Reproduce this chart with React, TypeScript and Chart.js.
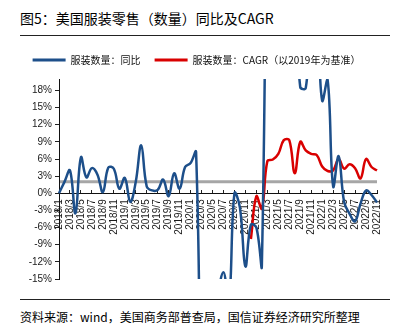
import React, { useEffect, useRef } from 'react';
import { Chart, registerables } from 'chart.js';

Chart.register(...registerables);

const categories = [
  '2018/1', '2018/2', '2018/3', '2018/4', '2018/5', '2018/6', '2018/7', '2018/8', '2018/9', '2018/10', '2018/11', '2018/12',
  '2019/1', '2019/2', '2019/3', '2019/4', '2019/5', '2019/6', '2019/7', '2019/8', '2019/9', '2019/10', '2019/11', '2019/12',
  '2020/1', '2020/2', '2020/3', '2020/4', '2020/5', '2020/6', '2020/7', '2020/8', '2020/9', '2020/10', '2020/11', '2020/12',
  '2021/1', '2021/2', '2021/3', '2021/4', '2021/5', '2021/6', '2021/7', '2021/8', '2021/9', '2021/10', '2021/11', '2021/12',
  '2022/1', '2022/2', '2022/3', '2022/4', '2022/5', '2022/6', '2022/7', '2022/8', '2022/9', '2022/10', '2022/11',
];

// 服装数量：同比 (%)
const yoyValues = [
  0.0, 2.0, 4.0, -3.5, 6.3, 2.8, 4.4, 3.3, 0.2, 4.5, 4.3, 0.8,
  2.7, -1.5, 2.0, 8.4, 1.2, 0.5, 0.6, 2.4, -0.5, 3.5, 0.8, 4.6,
  5.3, 7.2, -50.0, -85.0, -60.0, -19.0, -13.8, -19.0, 0.0, -2.5, -12.8, -5.5,
  -6.0, -12.6, 85.0, 300.0, 150.0, 45.0, 40.0, 35.0, 18.6, 18.4, 30.0, 30.0,
  16.2, 19.8, 1.2, 6.5, -1.5, -3.6, -4.9, -1.8, 0.5, -0.3, -1.6,
];

// 服装数量：CAGR（以2019年为基准）(%)
const cagrValues = [
  null, null, null, null, null, null, null, null, null, null, null, null,
  null, null, null, null, null, null, null, null, null, null, null, null,
  null, null, null, null, null, null, null, null, null, null, null, -8.0,
  -0.5, -2.7, 5.6, 5.9, 6.9, 9.3, 9.3, 3.5, 9.0, 7.5, 6.9, 6.7,
  4.7, 3.9, 4.0, 6.0, 4.3, 5.1, 4.4, 2.6, 6.0, 4.6, 4.0,
];

const yTickValues = [-15, -12, -9, -6, -3, 0, 3, 6, 9, 12, 15, 18];
const benchmarkValue = 2.0;

const seriesNames = ['服装数量：同比', '服装数量：CAGR（以2019年为基准）'];
const titleText = '图5：美国服装零售（数量）同比及CAGR';
const sourceText = '资料来源：wind，美国商务部普查局，国信证券经济研究所整理';

const BLUE = '#1d4f8a';
const RED = '#d90000';
const GRAY = '#a6a6a6';
const CJK = '"Noto Sans CJK SC", "Noto Sans", sans-serif';
const LATIN = '"Liberation Sans", Arial, sans-serif';

const benchmarkPlugin = {
  id: 'benchmarkLine',
  beforeDatasetsDraw(chart: any) {
    const { ctx, chartArea, scales } = chart;
    const y = scales.y.getPixelForValue(benchmarkValue);
    ctx.save();
    ctx.strokeStyle = GRAY;
    ctx.lineWidth = 3;
    ctx.beginPath();
    ctx.moveTo(chartArea.left + 1, y);
    ctx.lineTo(chartArea.right, y);
    ctx.stroke();
    ctx.restore();
  },
};

const legendHeightPlugin = {
  id: 'legendHeight',
  beforeInit(chart: any) {
    const legend = chart.legend;
    if (!legend) return;
    const origFit = legend.fit;
    legend.fit = function () {
      origFit.call(this);
      this.height = 38;
    };
  },
};

export default function App() {
  const canvasRef = useRef<HTMLCanvasElement | null>(null);

  useEffect(() => {
    if (!canvasRef.current) return;
    const chart = new Chart(canvasRef.current, {
      type: 'line',
      data: {
        labels: categories,
        datasets: [
          {
            label: seriesNames[0],
            data: yoyValues,
            borderColor: BLUE,
            backgroundColor: BLUE,
            borderWidth: 2.5,
            pointRadius: 0,
            tension: 0.4,
          },
          {
            label: seriesNames[1],
            data: cagrValues,
            borderColor: RED,
            backgroundColor: RED,
            borderWidth: 2.5,
            pointRadius: 0,
            tension: 0.4,
          },
        ],
      },
      options: {
        animation: false,
        responsive: false,
        events: [],
        layout: { padding: { left: 16, right: 24, top: 0, bottom: 12 } },
        elements: { line: { capBezierPoints: false } },
        plugins: {
          legend: {
            display: true,
            position: 'top',
            labels: {
              boxWidth: 33,
              boxHeight: 3,
              padding: 14,
              color: '#111',
              font: { family: CJK, size: 10 },
              generateLabels: (c: any) =>
                Chart.defaults.plugins.legend.labels
                  .generateLabels(c)
                  .map((l: any) => ({ ...l, lineWidth: 0 })),
            },
          },
          tooltip: { enabled: false },
        },
        scales: {
          x: {
            type: 'category',
            position: { y: 0 } as any,
            offset: false,
            grid: {
              display: true,
              drawOnChartArea: false,
              drawTicks: true,
              tickLength: -4,
              color: (ctx: any) => (ctx.index % 2 === 0 ? '#222' : 'rgba(0,0,0,0)'),
            },
            border: { display: true, color: '#111', width: 1 },
            ticks: {
              autoSkip: false,
              minRotation: 90,
              maxRotation: 90,
              padding: 10,
              color: '#1a1a1a',
              font: { family: LATIN, size: 10 },
              callback: (_v: any, i: number) => (i % 2 === 0 ? categories[i] : ''),
            },
          },
          y: {
            min: -15,
            max: 20,
            afterBuildTicks: (s: any) => {
              s.ticks = yTickValues.map((v) => ({ value: v }));
            },
            afterFit: (s: any) => {
              s.width = 43;
            },
            grid: {
              display: true,
              drawOnChartArea: false,
              drawTicks: true,
              tickLength: 4,
              color: '#222',
            },
            border: { display: true, color: '#111', width: 1 },
            ticks: {
              padding: 3,
              color: '#1a1a1a',
              font: { family: LATIN, size: 10 },
              callback: (v: any) => `${v}%`,
            },
          },
        },
      },
      plugins: [benchmarkPlugin, legendHeightPlugin],
    } as any);
    return () => chart.destroy();
  }, []);

  return (
    <div style={{ position: 'absolute', left: 0, top: 0, width: 401, height: 333, background: '#fff', overflow: 'hidden' }}>
      <div
        style={{
          position: 'absolute', left: 20, top: 9, fontFamily: CJK, fontSize: 14, lineHeight: '18px',
          color: '#000', whiteSpace: 'nowrap',
        }}
      >
        {titleText}
      </div>
      <div style={{ position: 'absolute', left: 20, top: 35, width: 370, height: 1, background: '#222' }} />
      <canvas
        ref={canvasRef}
        width={401}
        height={250}
        style={{ position: 'absolute', left: 0, top: 41, width: 401, height: 250 }}
      />
      <div style={{ position: 'absolute', left: 20, top: 299, width: 370, height: 1, background: '#222' }} />
      <div
        style={{
          position: 'absolute', left: 20, top: 309, fontFamily: CJK, fontSize: 12, lineHeight: '16px',
          color: '#000', whiteSpace: 'nowrap',
        }}
      >
        {sourceText}
      </div>
    </div>
  );
}
